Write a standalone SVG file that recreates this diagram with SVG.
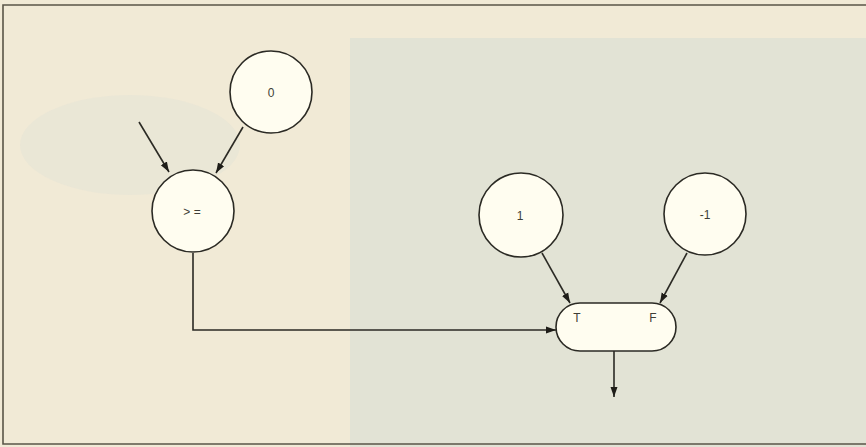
<svg xmlns="http://www.w3.org/2000/svg" width="866" height="447" viewBox="0 0 866 447">
<style>
.node{fill:#fffdf0;stroke:#2b2a24;stroke-width:1.6}
.lbl{font-family:"Liberation Sans",Arial,sans-serif;font-size:12px;fill:#3e3d36;text-anchor:middle;dominant-baseline:central}
.edge{fill:none;stroke:#2b2a24;stroke-width:1.6}
.frame{fill:none;stroke:#5a5548;stroke-width:1.6}
</style>
<defs>
<marker id="ah" viewBox="0 0 10 10" refX="10" refY="5" markerWidth="10" markerHeight="10" markerUnits="userSpaceOnUse" orient="auto">
<path d="M0,1.5 L10,5 L0,8.5 Z" fill="#1e1d18"/>
</marker>
</defs>
<rect x="0" y="0" width="866" height="447" fill="#f1ead6"/>
<rect x="350" y="38" width="516" height="409" fill="#e2e3d5"/>
<ellipse cx="130" cy="145" rx="110" ry="50" fill="#e6e5d6" opacity="0.6"/>
<path class="frame" d="M866,5 L3,5 L3,444 L866,444"/>
<g id="connectors">
<line class="edge" x1="139" y1="122" x2="169" y2="172" marker-end="url(#ah)"/>
<line class="edge" x1="243" y1="127" x2="216" y2="173" marker-end="url(#ah)"/>
<polyline class="edge" points="193,253 193,330 556,330" marker-end="url(#ah)"/>
<line class="edge" x1="542" y1="253" x2="570" y2="303" marker-end="url(#ah)"/>
<line class="edge" x1="687" y1="253" x2="660" y2="303" marker-end="url(#ah)"/>
<line class="edge" x1="614" y1="351" x2="614" y2="397" marker-end="url(#ah)"/>
</g>
<g id="node-zero">
<circle class="node" cx="271" cy="92" r="41"/>
<text class="lbl" x="271" y="93">0</text>
</g>
<g id="node-ge">
<circle class="node" cx="193" cy="211" r="41"/>
<text class="lbl" x="192" y="212" xml:space="preserve">&gt; =</text>
</g>
<g id="node-one">
<circle class="node" cx="521" cy="215" r="42"/>
<text class="lbl" x="520" y="216">1</text>
</g>
<g id="node-minus-one">
<circle class="node" cx="705" cy="214" r="41"/>
<text class="lbl" x="705" y="215">-1</text>
</g>
<g id="node-select">
<rect class="node" x="556" y="303" width="120" height="48" rx="24" ry="24"/>
<text class="lbl" x="577" y="318">T</text>
<text class="lbl" x="653" y="318">F</text>
</g>
</svg>
